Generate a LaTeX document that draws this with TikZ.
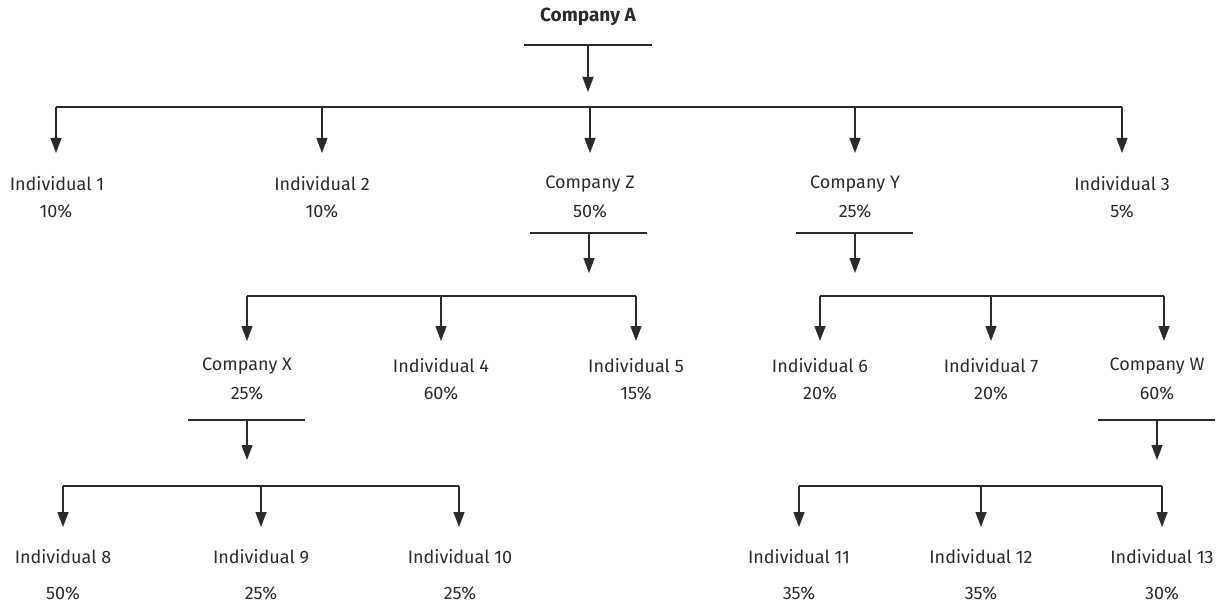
\documentclass[tikz,border=0pt]{standalone}
\usepackage{fontspec}
\setmainfont{Fira Sans}
\usetikzlibrary{arrows.meta}
\definecolor{ink}{HTML}{2B2B2B}
\tikzset{
  lbl/.style={inner sep=0pt, text=ink, font=\fontsize{18}{21}\selectfont, anchor=center},
  head/.style={lbl, font=\fontsize{19}{22}\selectfont\bfseries},
  wire/.style={draw=ink, line width=1.3pt},
  arr/.style={wire, -{Triangle[length=15pt,width=11pt]}}
}
\begin{document}
\begin{tikzpicture}[x=1pt,y=-1pt]
\useasboundingbox (0,0) rectangle (1228,604);
% ---------- labels ----------
\node[head] (A) at (588,17) {Company A};
\node[lbl] (i1) at (57,184) {Individual 1};   \node[lbl] (i1p) at (56,211) {10\%};
\node[lbl] (i2) at (322,184) {Individual 2};  \node[lbl] (i2p) at (322,211) {10\%};
\node[lbl] (cZ) at (590,184) {Company Z};     \node[lbl] (cZp) at (590,211) {50\%};
\node[lbl] (cY) at (855,184) {Company Y};     \node[lbl] (cYp) at (855,211) {25\%};
\node[lbl] (i3) at (1122,184) {Individual 3}; \node[lbl] (i3p) at (1122,211) {5\%};
\node[lbl] (cX) at (247,366) {Company X};     \node[lbl] (cXp) at (247,393) {25\%};
\node[lbl] (i4) at (441,366) {Individual 4};  \node[lbl] (i4p) at (441,393) {60\%};
\node[lbl] (i5) at (636,366) {Individual 5};  \node[lbl] (i5p) at (636,393) {15\%};
\node[lbl] (i6) at (820,366) {Individual 6};  \node[lbl] (i6p) at (820,393) {20\%};
\node[lbl] (i7) at (991,366) {Individual 7};  \node[lbl] (i7p) at (991,393) {20\%};
\node[lbl] (cW) at (1157,366) {Company W};    \node[lbl] (cWp) at (1157,393) {60\%};
\node[lbl] (i8) at (63,557) {Individual 8};   \node[lbl] (i8p) at (63,593) {50\%};
\node[lbl] (i9) at (261,557) {Individual 9};  \node[lbl] (i9p) at (261,593) {25\%};
\node[lbl] (i10) at (460,557) {Individual 10};\node[lbl] (i10p) at (460,593) {25\%};
\node[lbl] (i11) at (799,557) {Individual 11};\node[lbl] (i11p) at (799,593) {35\%};
\node[lbl] (i12) at (981,557) {Individual 12};\node[lbl] (i12p) at (981,593) {35\%};
\node[lbl] (i13) at (1162,557) {Individual 13};\node[lbl] (i13p) at (1162,593) {30\%};
% ---------- Company A ----------
\coordinate (Abl) at (524,45); \coordinate (Abr) at (652,45);
\coordinate (Am) at (588,45);  \coordinate (At) at (588,92);
\draw[wire] (Abl) -- (Abr);
\draw[arr] (Am) -- (At);
\coordinate (L1a) at (56,107); \coordinate (L1e) at (1122,107);
\draw[wire] (L1a) -- (L1e);
\foreach \x/\n in {56/i1,322/i2,590/cZ,855/cY,1122/i3}
  \draw[arr] (\x,107) -- (\x,153) coordinate (t\n);
% ---------- Company Z ----------
\coordinate (Zbl) at (530,233); \coordinate (Zbr) at (647,233);
\draw[wire] (Zbl) -- (Zbr);
\draw[arr] (589,233) coordinate (Zm) -- (589,273) coordinate (Zt);
\coordinate (L2a) at (247,296); \coordinate (L2e) at (636,296);
\draw[wire] (L2a) -- (L2e);
\foreach \x/\n in {247/cX,441/i4,636/i5}
  \draw[arr] (\x,296) -- (\x,341) coordinate (t\n);
% ---------- Company Y ----------
\coordinate (Ybl) at (796,233); \coordinate (Ybr) at (913,233);
\draw[wire] (Ybl) -- (Ybr);
\draw[arr] (855,233) coordinate (Ym) -- (855,273) coordinate (Yt);
\coordinate (L3a) at (820,296); \coordinate (L3e) at (1164,296);
\draw[wire] (L3a) -- (L3e);
\foreach \x/\n in {820/i6,991/i7,1164/cW}
  \draw[arr] (\x,296) -- (\x,341) coordinate (t\n);
% ---------- Company X ----------
\coordinate (Xbl) at (188,420); \coordinate (Xbr) at (305,420);
\draw[wire] (Xbl) -- (Xbr);
\draw[arr] (247,420) coordinate (Xm) -- (247,460) coordinate (Xt);
\coordinate (L4a) at (63,486); \coordinate (L4e) at (459,486);
\draw[wire] (L4a) -- (L4e);
\foreach \x/\n in {63/i8,261/i9,459/i10}
  \draw[arr] (\x,486) -- (\x,527) coordinate (t\n);
% ---------- Company W ----------
\coordinate (Wbl) at (1098,420); \coordinate (Wbr) at (1215,420);
\draw[wire] (Wbl) -- (Wbr);
\draw[arr] (1157,420) coordinate (Wm) -- (1157,460) coordinate (Wt);
\coordinate (L5a) at (799,486); \coordinate (L5e) at (1162,486);
\draw[wire] (L5a) -- (L5e);
\foreach \x/\n in {799/i11,981/i12,1162/i13}
  \draw[arr] (\x,486) -- (\x,527) coordinate (t\n);
\end{tikzpicture}
\end{document}
